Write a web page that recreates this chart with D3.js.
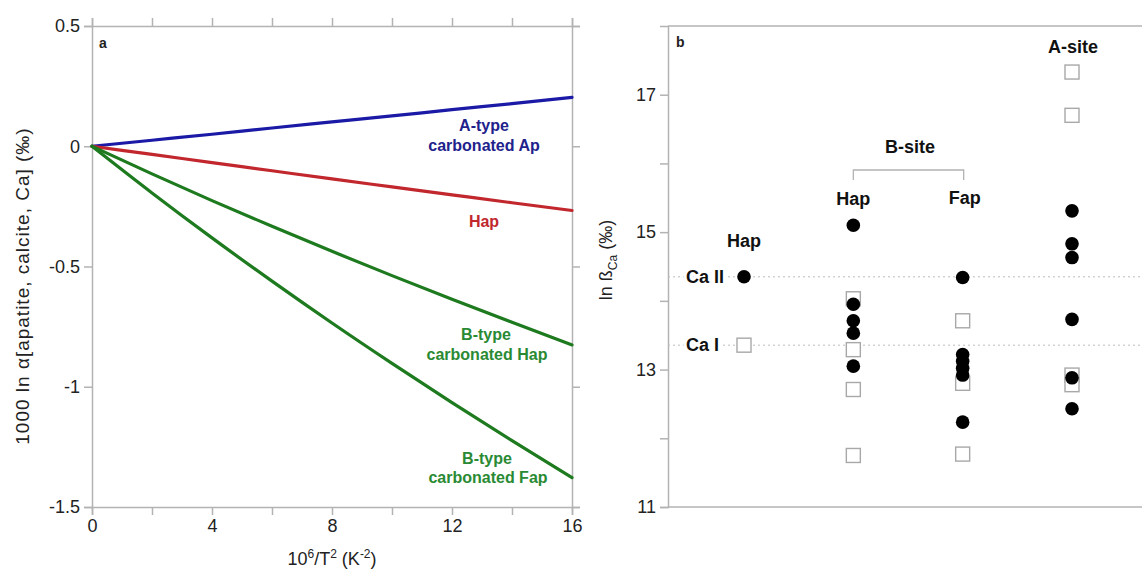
<!DOCTYPE html>
<html><head><meta charset="utf-8">
<script src="https://cdn.jsdelivr.net/npm/d3@7"></script>
<style>
body{margin:0;background:#fff;}
svg{display:block;font-family:"Liberation Sans",Arial,sans-serif;}
</style></head>
<body>
<svg id="chart" width="1142" height="572"></svg>
<script>
// ---------- Panel a data ----------
const xValues = [0, 2, 4, 6, 8, 10, 12, 14, 16];
const aTypeAp   = [0, 0.025, 0.05, 0.076, 0.101, 0.126, 0.152, 0.177, 0.203];
const hapLine   = [0, -0.034, -0.068, -0.102, -0.136, -0.169, -0.202, -0.235, -0.267];
const bTypeHap  = [0, -0.115, -0.226, -0.333, -0.437, -0.538, -0.636, -0.732, -0.826];
const bTypeFap  = [0, -0.194, -0.381, -0.561, -0.735, -0.903, -1.066, -1.224, -1.378];
const aYTicks = [0.5, 0, -0.5, -1, -1.5];
const aXTickLabels = [0, 4, 8, 12, 16];
const aXMinorTicks = [0, 2, 4, 6, 8, 10, 12, 14, 16];

// ---------- Panel b data ----------
const bCategories = ["Hap", "Hap", "Fap", "A-site"];
const bFilled = [
  [14.35],
  [15.10, 13.95, 13.71, 13.53, 13.05],
  [14.34, 13.22, 13.12, 13.02, 12.92, 12.235],
  [15.31, 14.83, 14.63, 13.73, 12.88, 12.43]
];
const bOpen = [
  [13.355],
  [14.03, 13.29, 12.71, 11.75],
  [13.71, 12.80, 11.77],
  [17.33, 16.70, 12.92, 12.78]
];
const caLevels = [{label: "Ca II", v: 14.35}, {label: "Ca I", v: 13.355}];
const bYTicks = [11, 13, 15, 17];
const bYMinor = [12, 14, 16];

const svg = d3.select("#chart");
const AX = "#b3b3b3";

// ================= Panel a =================
const xA = d3.scaleLinear([0, 16], [92, 572]);
const yA = d3.scaleLinear([-1.5, 0.5], [507, 26]);

function styleAxis(g){
  g.select(".domain").attr("stroke", AX).attr("stroke-width", 1.5);
  g.selectAll(".tick line").attr("stroke", AX).attr("stroke-width", 1.5);
  g.selectAll(".tick text").attr("fill", "#222").style("font-size", "18px")
    .style("font-family", "'Liberation Sans', Arial, sans-serif");
}

svg.append("g").attr("transform", `translate(0,${yA(-1.5)})`)
  .call(d3.axisBottom(xA).tickValues(aXMinorTicks).tickSize(8).tickPadding(4)
    .tickFormat(d => aXTickLabels.includes(d) ? d : ""))
  .call(styleAxis);
svg.append("g").attr("transform", `translate(0,${yA(0.5)})`)
  .call(d3.axisTop(xA).tickValues(aXMinorTicks).tickSize(8).tickFormat(""))
  .call(styleAxis);
svg.append("g").attr("transform", `translate(${xA(0)},0)`)
  .call(d3.axisLeft(yA).tickValues(aYTicks).tickSize(8).tickPadding(4)
    .tickFormat(d => d === 0 ? "0" : String(d)))
  .call(styleAxis);
svg.append("g").attr("transform", `translate(${xA(16)},0)`)
  .call(d3.axisRight(yA).tickValues(aYTicks).tickSize(8).tickFormat(""))
  .call(styleAxis);

const lineGen = d3.line().x((d, i) => xA(xValues[i])).y(d => yA(d)).curve(d3.curveMonotoneX);
const series = [
  {v: aTypeAp, c: "#1a1aa6"},
  {v: hapLine, c: "#c1272d"},
  {v: bTypeHap, c: "#1e7a1e"},
  {v: bTypeFap, c: "#1e7a1e"}
];
series.forEach(s => {
  svg.append("path").datum(s.v).attr("d", lineGen)
    .attr("fill", "none").attr("stroke", s.c).attr("stroke-width", 3.2)
    .attr("stroke-linecap", "round");
});

function label(x, y, txt, col, size, anchor){
  return svg.append("text").attr("x", x).attr("y", y).attr("fill", col)
    .attr("text-anchor", anchor || "middle").attr("dominant-baseline", "central")
    .style("font-weight", "bold").style("font-size", (size || 16) + "px").text(txt);
}
const BLUE_T = "#22228c", RED_T = "#c0282d", GREEN_T = "#2a8a34";
label(484, 125, "A-type", BLUE_T);
label(484, 145, "carbonated Ap", BLUE_T);
label(484, 221, "Hap", RED_T);
label(486, 334, "B-type", GREEN_T);
label(487, 354, "carbonated Hap", GREEN_T);
label(487, 458, "B-type", GREEN_T);
label(488, 477, "carbonated Fap", GREEN_T);
label(99, 43, "a", "#222", 14, "start");

// axis titles a
const xt = svg.append("text").attr("x", 332).attr("y", 565).attr("text-anchor", "middle")
  .attr("fill", "#222").style("font-size", "18px");
xt.append("tspan").text("10");
xt.append("tspan").attr("dy", -7).style("font-size", "12px").text("6");
xt.append("tspan").attr("dy", 7).text("/T");
xt.append("tspan").attr("dy", -7).style("font-size", "12px").text("2");
xt.append("tspan").attr("dy", 7).text(" (K");
xt.append("tspan").attr("dy", -7).style("font-size", "12px").text("-2");
xt.append("tspan").attr("dy", 7).text(")");

svg.append("text").attr("transform", "translate(29,286) rotate(-90)")
  .attr("text-anchor", "middle").attr("fill", "#222").style("font-size", "19px")
  .style("letter-spacing", "1px")
  .text("1000 ln α[apatite, calcite, Ca] (‰)");

// ================= Panel b =================
const xB = d3.scaleLinear([1, 4], [744, 1072]);
const yB = d3.scaleLinear([11, 18], [507, 26]);
const bLeft = 668, bRight = 1142;

svg.append("g").attr("transform", `translate(${bLeft},0)`)
  .call(d3.axisLeft(yB).tickValues(bYTicks.concat(bYMinor)).tickSize(8).tickPadding(4)
    .tickFormat(d => bYTicks.includes(d) ? d : ""))
  .call(styleAxis);
svg.append("line").attr("x1", bLeft).attr("x2", bRight).attr("y1", yB(18)).attr("y2", yB(18))
  .attr("stroke", AX).attr("stroke-width", 1.5);
svg.append("line").attr("x1", bLeft).attr("x2", bRight).attr("y1", yB(11)).attr("y2", yB(11))
  .attr("stroke", AX).attr("stroke-width", 1.5);

// Ca level dotted lines + labels
caLevels.forEach(c => {
  svg.append("line").attr("x1", bLeft).attr("x2", bRight).attr("y1", yB(c.v)).attr("y2", yB(c.v))
    .attr("stroke", "#bdbdbd").attr("stroke-width", 1).attr("stroke-dasharray", "2,3");
  label(686, yB(c.v), c.label, "#111", 18, "start")
    .style("paint-order", "stroke").attr("stroke", "#fff").attr("stroke-width", 6);
});

// open squares
const sq = 14;
bOpen.forEach((vals, i) => {
  vals.forEach(v => {
    svg.append("rect").attr("x", xB(i + 1) - sq / 2).attr("y", yB(v) - sq / 2)
      .attr("width", sq).attr("height", sq).attr("fill", "#fff")
      .attr("stroke", "#a8a8a8").attr("stroke-width", 1.4);
  });
});
// filled circles
bFilled.forEach((vals, i) => {
  vals.forEach(v => {
    svg.append("circle").attr("cx", xB(i + 1)).attr("cy", yB(v)).attr("r", 6.8).attr("fill", "#000");
  });
});

// category labels
label(xB(1), 241, bCategories[0], "#111", 18);
label(xB(2), 199, bCategories[1], "#111", 18);
label(xB(3) + 2, 198, bCategories[2], "#111", 18);
label(xB(4) + 1, 47, bCategories[3], "#111", 18);
label((xB(2) + xB(3)) / 2 + 2, 147, "B-site", "#111", 18);
svg.append("path")
  .attr("d", `M${xB(2)},${180}V${170}H${xB(3) + 1}V${180}`)
  .attr("fill", "none").attr("stroke", AX).attr("stroke-width", 1.3);
label(676, 42, "b", "#222", 14, "start");

// y title b
const yt = svg.append("text").attr("transform", "translate(612,260) rotate(-90)")
  .attr("text-anchor", "middle").attr("fill", "#222").style("font-size", "18px");
yt.append("tspan").text("ln ß");
yt.append("tspan").attr("dy", 5).style("font-size", "12px").text("Ca");
yt.append("tspan").attr("dy", -5).text(" (‰)");
</script>
</body></html>
